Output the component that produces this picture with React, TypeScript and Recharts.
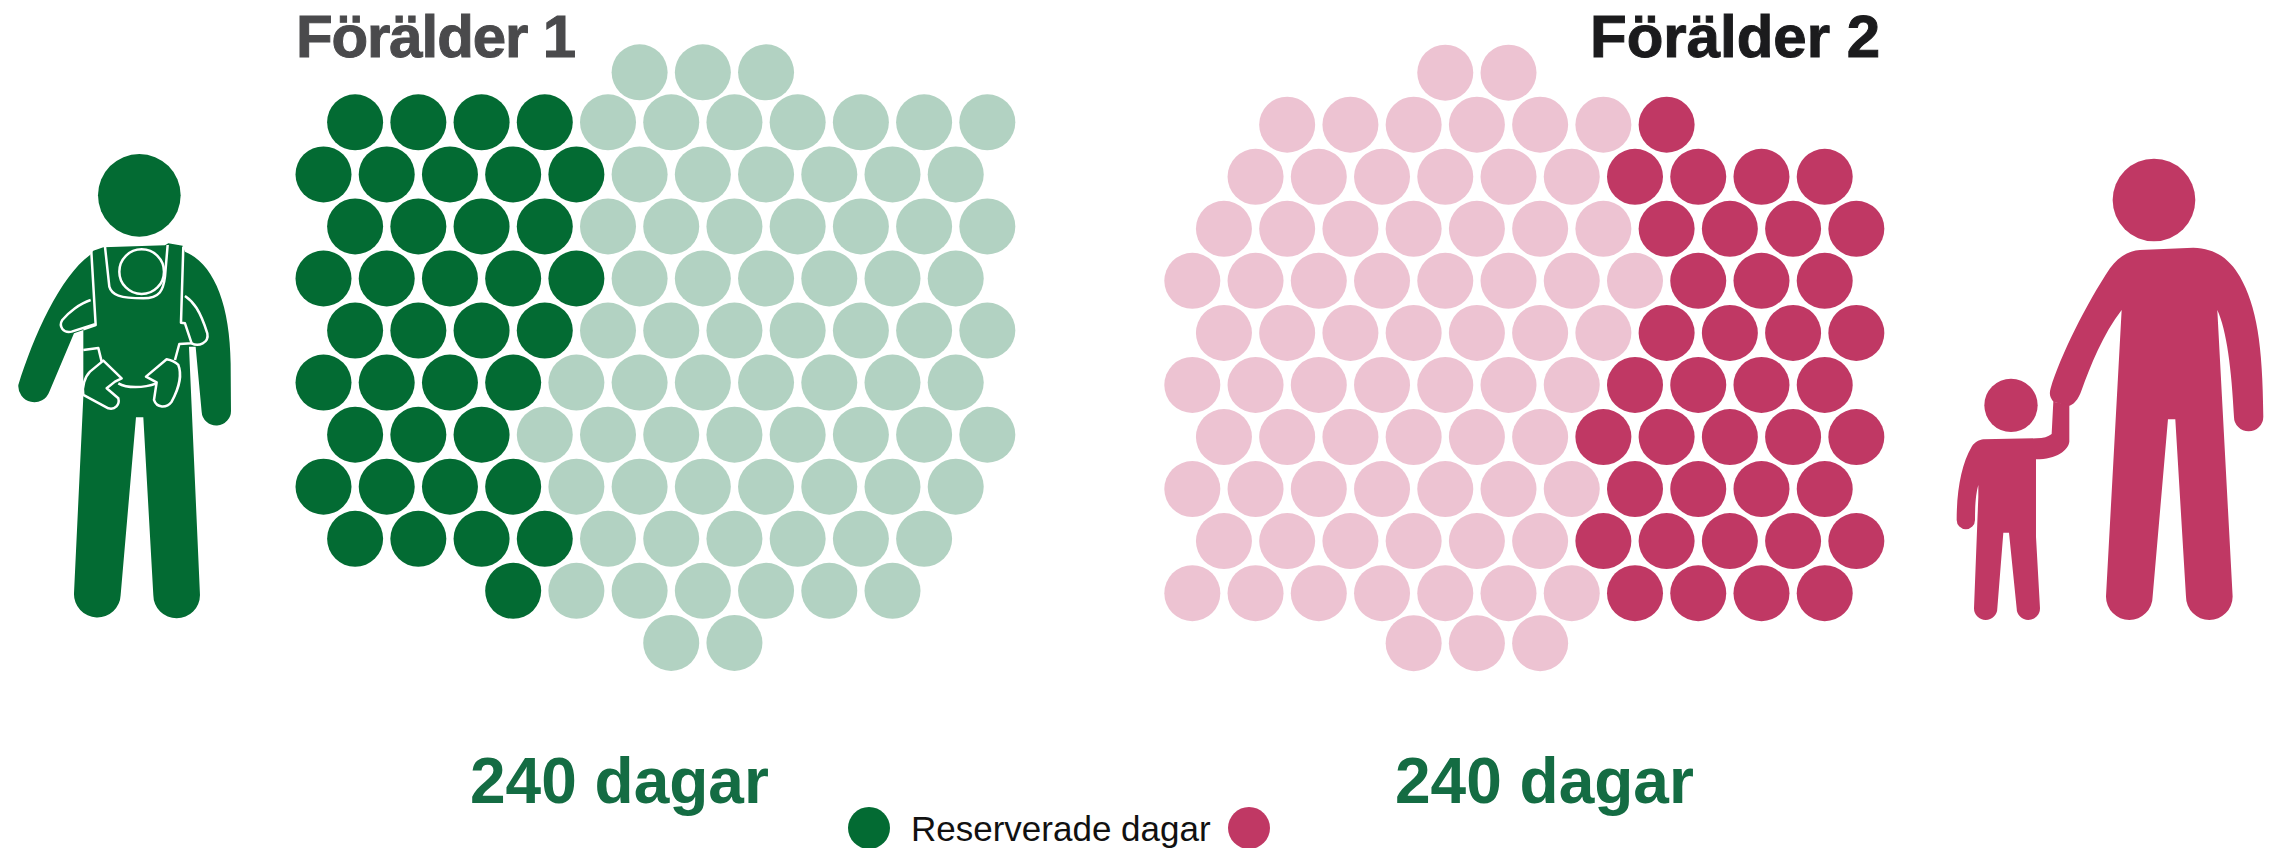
import { ScatterChart, Scatter, XAxis, YAxis } from 'recharts';

const GREEN = '#036B33';
const GREEN_LIGHT = '#B2D2C2';
const PINK = '#C03864';
const PINK_LIGHT = '#EDC3D2';
const DOT_R = 28;

// one entry per row, top to bottom. x is counted in half circle steps
const rowY1 = [0.04, 1, 2, 3, 4, 5, 6, 7, 8, 9, 10, 11];
const rowStart1 = [10, 1, 0, 1, 0, 1, 0, 1, 0, 1, 6, 11];
const reserved1 = [0, 4, 5, 4, 5, 4, 4, 3, 4, 4, 1, 0];
const free1 = [3, 7, 6, 7, 6, 7, 7, 8, 7, 6, 6, 2];

const rowY2 = [0, 1, 2, 3, 4, 5, 6, 7, 8, 9, 10, 10.96];
const rowStart2 = [8, 3, 2, 1, 0, 1, 0, 1, 0, 1, 0, 7];
const free2 = [2, 6, 6, 7, 8, 7, 7, 6, 7, 6, 7, 3];
const reserved2 = [0, 1, 4, 4, 3, 4, 4, 5, 4, 5, 4, 0];

interface Dot { x: number; y: number }

// first = the run that comes first from the left in each row
function dotsOf(rowY: number[], rowStart: number[], first: number[], second: number[]) {
  const a: Dot[] = [];
  const b: Dot[] = [];
  rowY.forEach((y, r) => {
    for (let i = 0; i < first[r]; i++) a.push({ x: rowStart[r] + i * 2, y });
    for (let i = 0; i < second[r]; i++) b.push({ x: rowStart[r] + (first[r] + i) * 2, y });
  });
  return [a, b];
}

const [reservedDots1, freeDots1] = dotsOf(rowY1, rowStart1, reserved1, free1);
const [freeDots2, reservedDots2] = dotsOf(rowY2, rowStart2, free2, reserved2);

const dot = (fill: string) => (props: any) => <circle cx={props.cx} cy={props.cy} r={DOT_R} fill={fill} />;

function CarrierIcon() {
  const line = { fill: 'none', stroke: '#fff', strokeWidth: 7.5, strokeLinejoin: 'round' as const };
  return (
    <g transform="translate(0,130) scale(0.3333)">
      <circle cx={418} cy={196} r={124} fill={GREEN} />
      <path
        fill={GREEN}
        d="M280 362 L310 352 L495 346 L505 340 L548 347 L555 365 C640 400 690 520 692 700 L693 840 A44 44 0 0 1 605 845 L587 650 L567 650 L600 1395 A70 70 0 0 1 460 1395 L430 862 L408 862 L362 1395 A70 70 0 0 1 222 1390 L250 800 L250 600 L222 610 L148 785 A48 48 0 0 1 55 765 C100 620 180 440 270 375 Z"
      />
      <path {...line} d="M274 365 L287 585 L250 598" />
      <path {...line} d="M272 510 C240 520 205 548 187 570 C175 590 190 610 215 605 L285 583" />
      <path {...line} d="M315 350 L328 470 C335 495 360 505 430 505 C480 505 490 480 495 440 L503 345" />
      <circle {...line} cx={425} cy={425} r={67} />
      <path {...line} d="M550 350 L543 578 L555 580 L575 640 L538 642 L525 690" />
      <path {...line} d="M555 498 C580 515 600 540 622 610 C628 640 595 650 575 640" />
      <path {...line} d="M250 660 L295 654 L305 695" />
      <path {...line} d="M310 692 L365 745 L345 755 L320 775 L355 805 C360 825 345 840 325 835 L250 795 C245 770 255 740 270 725 Z" />
      <path {...line} d="M355 760 C380 775 430 775 470 760" />
      <path {...line} d="M500 688 L438 740 L470 757 L462 810 C470 835 500 835 515 815 C540 770 545 730 535 705 C525 695 510 690 500 688 Z" />
    </g>
  );
}

function AdultChildIcon() {
  return (
    <g transform="translate(1940,130) scale(0.3333)" fill={PINK}>
      <circle cx={642} cy={210} r={124} />
      <path d="M600 360 L760 353 C830 355 870 390 900 440 C950 530 968 640 970 860 A44 44 0 0 1 882 860 C875 720 860 600 832 540 L878 1400 A70 70 0 0 1 738 1400 L706 868 L684 868 L638 1400 A70 70 0 0 1 498 1400 L545 540 C490 610 450 710 425 780 C415 810 400 825 385 828 L340 815 C328 800 328 790 332 775 C360 680 440 520 510 415 C540 375 570 362 600 360 Z" />
      <circle cx={213} cy={826} r={80} />
      <path d="M130 928 L290 925 C310 925 325 920 335 912 L340 815 L388 825 L388 935 C385 960 350 988 288 988 L288 1220 L300 1435 A35 35 0 0 1 230 1435 L207 1208 L190 1208 L172 1435 A35 35 0 0 1 102 1435 L115 1100 L115 1065 C108 1090 105 1120 105 1170 A27 27 0 0 1 50 1170 C50 1080 65 1000 95 950 C105 935 118 930 130 928 Z" />
    </g>
  );
}

export default function App() {
  return (
    <div style={{ position: 'absolute', left: 0, top: 0, width: 2278, height: 848, background: '#fff', overflow: 'hidden' }}>
      <ScatterChart width={2278} height={848} margin={{ left: 0, right: 0, top: 0, bottom: 0 }}>
        <XAxis xAxisId="p1" type="number" dataKey="x" domain={[-10.234, 61.83]} hide />
        <XAxis xAxisId="p2" type="number" dataKey="x" domain={[-37.707, 34.335]} hide />
        <YAxis yAxisId="p1" type="number" dataKey="y" domain={[-1.35, 14.94]} reversed hide />
        <YAxis yAxisId="p2" type="number" dataKey="y" domain={[-1.396, 14.896]} reversed hide />

        <Scatter xAxisId="p1" yAxisId="p1" data={reservedDots1} shape={dot(GREEN)} isAnimationActive={false} />
        <Scatter xAxisId="p1" yAxisId="p1" data={freeDots1} shape={dot(GREEN_LIGHT)} isAnimationActive={false} />
        <Scatter xAxisId="p2" yAxisId="p2" data={freeDots2} shape={dot(PINK_LIGHT)} isAnimationActive={false} />
        <Scatter xAxisId="p2" yAxisId="p2" data={reservedDots2} shape={dot(PINK)} isAnimationActive={false} />

        <CarrierIcon />
        <AdultChildIcon />

        <g fontFamily="'Liberation Sans', Arial, sans-serif">
          <text x={296} y={57} fontSize={60} fontWeight={700} fill="#4A4A4C" stroke="#4A4A4C" strokeWidth={1} letterSpacing={-1.1}>Förälder 1</text>
          <text x={1590} y={57} fontSize={60} fontWeight={700} fill="#1B1B1D" stroke="#1B1B1D" strokeWidth={1}>Förälder 2</text>
          <text x={470} y={803} fontSize={64} fontWeight={700} fill="#146C43">240 dagar</text>
          <text x={1395} y={803} fontSize={64} fontWeight={700} fill="#146C43">240 dagar</text>
          <circle cx={869} cy={828} r={21} fill={GREEN} />
          <text x={911} y={841} fontSize={35} fill="#111">Reserverade dagar</text>
          <circle cx={1249} cy={828} r={21} fill={PINK} />
        </g>
      </ScatterChart>
    </div>
  );
}
